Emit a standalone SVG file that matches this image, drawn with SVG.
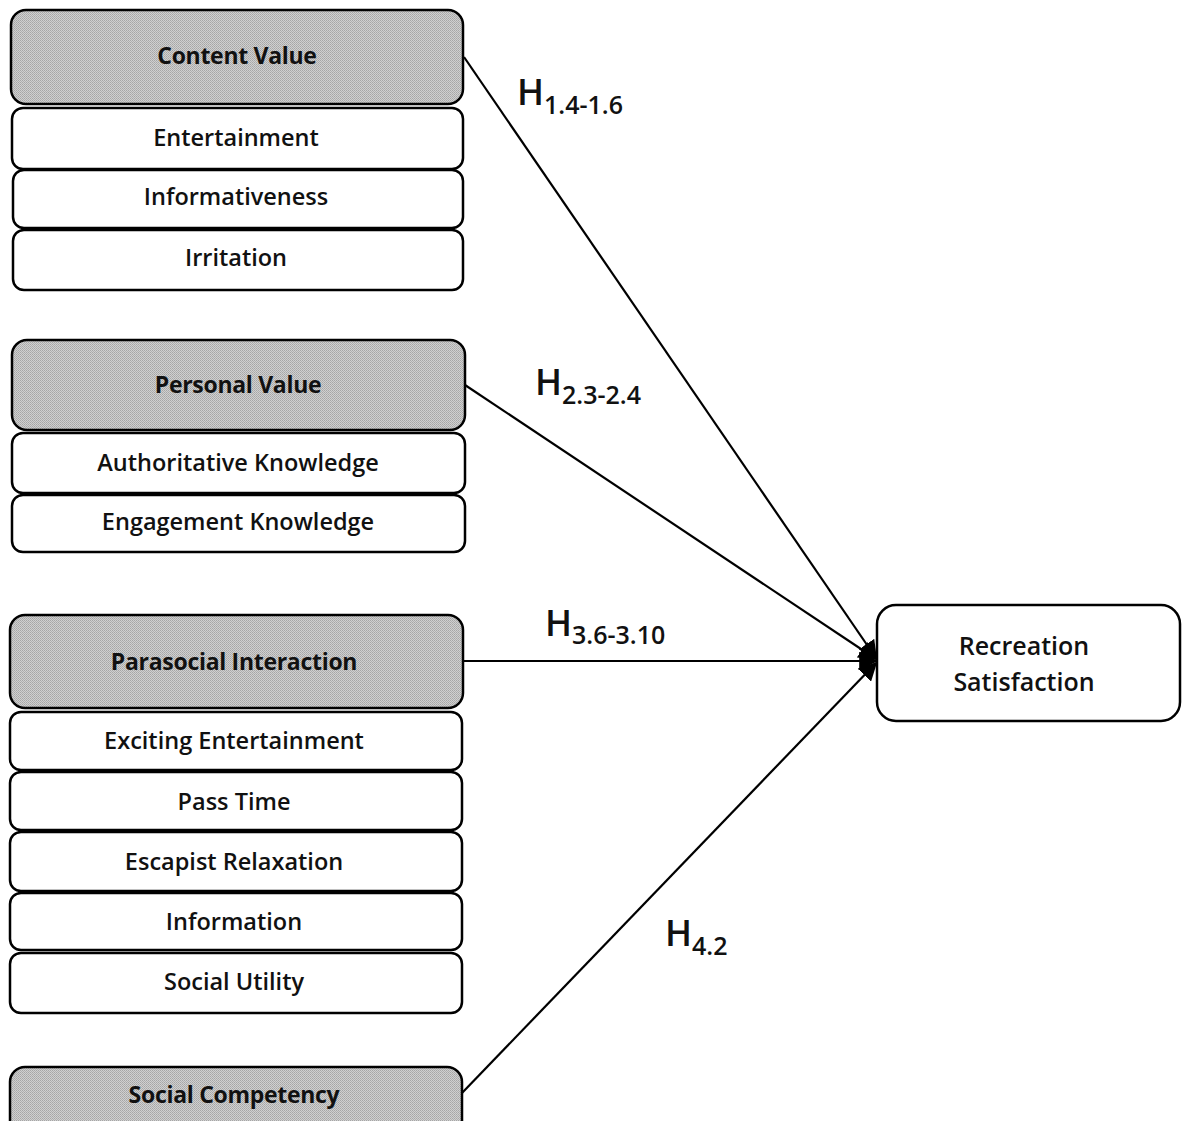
<svg xmlns="http://www.w3.org/2000/svg" width="1186" height="1121" viewBox="0 0 1186 1121">
  <style>
    .hdr { fill: url(#stipple); stroke: #000; stroke-width: 2.5; }
    .item { fill: #fff; stroke: #000; stroke-width: 2.5; }
    .lbl { font-family: "Open Sans", "Liberation Sans", sans-serif; font-size: 23.5px; font-weight: 600; fill: #111; text-anchor: middle; }
    .hlbl { font-family: "Open Sans", "Liberation Sans", sans-serif; font-size: 23px; font-weight: bold; fill: #111; text-anchor: middle; letter-spacing: -0.3px; }
    .hyp { font-family: "Open Sans", "Liberation Sans", sans-serif; font-size: 36px; font-weight: 600; fill: #111; }
    .sub { font-size: 25px; }
    .edge { stroke: #000; stroke-width: 2.2; fill: none; marker-end: url(#arrow); }
  </style>
  <defs>
    <!-- dithered grey used by the construct headers -->
    <pattern id="stipple" width="2" height="2" patternUnits="userSpaceOnUse">
      <rect width="2" height="2" fill="#d0d0d0"/>
      <rect width="1" height="1" fill="#a6a6a6"/>
      <rect x="1" y="1" width="1" height="1" fill="#b0b0b0"/>
    </pattern>
    <marker id="arrow" viewBox="0 0 10 10" refX="9" refY="5" markerWidth="8.5" markerHeight="8.5" orient="auto" markerUnits="strokeWidth">
      <path d="M0,0 L10,5 L0,10 z" fill="#000"/>
    </marker>
  </defs>
  <rect width="1186" height="1121" fill="#fff"/>

  <!-- Content Value block -->
  <g id="content-value">
    <rect class="hdr" x="11" y="10" width="452" height="94" rx="15"/>
    <text class="hlbl" x="237" y="64">Content Value</text>
  </g>
  <g id="entertainment">
    <rect class="item" x="12" y="108" width="451" height="61" rx="11"/>
    <text class="lbl" x="236" y="146">Entertainment</text>
  </g>
  <g id="informativeness">
    <rect class="item" x="13" y="170" width="450" height="58" rx="11"/>
    <text class="lbl" x="236" y="205">Informativeness</text>
  </g>
  <g id="irritation">
    <rect class="item" x="13" y="230" width="450" height="60" rx="11"/>
    <text class="lbl" x="236" y="266">Irritation</text>
  </g>

  <!-- Personal Value block -->
  <g id="personal-value">
    <rect class="hdr" x="12" y="340" width="453" height="90" rx="15"/>
    <text class="hlbl" x="238" y="393">Personal Value</text>
  </g>
  <g id="authoritative-knowledge">
    <rect class="item" x="12" y="433" width="453" height="60" rx="11"/>
    <text class="lbl" x="238" y="471">Authoritative Knowledge</text>
  </g>
  <g id="engagement-knowledge">
    <rect class="item" x="12" y="495" width="453" height="57" rx="11"/>
    <text class="lbl" x="238" y="530">Engagement Knowledge</text>
  </g>

  <!-- Parasocial Interaction block -->
  <g id="parasocial-interaction">
    <rect class="hdr" x="10" y="615" width="453" height="93" rx="15"/>
    <text class="hlbl" x="234" y="670">Parasocial Interaction</text>
  </g>
  <g id="exciting-entertainment">
    <rect class="item" x="10" y="712" width="452" height="58" rx="11"/>
    <text class="lbl" x="234" y="749">Exciting Entertainment</text>
  </g>
  <g id="pass-time">
    <rect class="item" x="10" y="772" width="452" height="58" rx="11"/>
    <text class="lbl" x="234" y="810">Pass Time</text>
  </g>
  <g id="escapist-relaxation">
    <rect class="item" x="10" y="832" width="452" height="59" rx="11"/>
    <text class="lbl" x="234" y="870">Escapist Relaxation</text>
  </g>
  <g id="information">
    <rect class="item" x="10" y="893" width="452" height="57" rx="11"/>
    <text class="lbl" x="234" y="930">Information</text>
  </g>
  <g id="social-utility">
    <rect class="item" x="10" y="953" width="452" height="60" rx="11"/>
    <text class="lbl" x="234" y="990">Social Utility</text>
  </g>

  <!-- Social Competency block (runs off the bottom edge) -->
  <g id="social-competency">
    <rect class="hdr" x="10" y="1067" width="452" height="80" rx="15"/>
    <text class="hlbl" x="234" y="1103">Social Competency</text>
  </g>

  <!-- Outcome -->
  <g id="recreation-satisfaction">
    <rect class="item" x="877" y="605" width="303" height="116" rx="19"/>
    <text class="lbl" x="1024" y="655" style="font-size:25px">Recreation</text>
    <text class="lbl" x="1024" y="691" style="font-size:25px">Satisfaction</text>
  </g>

  <!-- Hypothesis paths -->
  <g id="connectors">
    <line class="edge" x1="464" y1="57" x2="876" y2="658"/>
    <line class="edge" x1="465" y1="385" x2="876" y2="659"/>
    <line class="edge" x1="463" y1="661" x2="876" y2="661"/>
    <line class="edge" x1="462" y1="1093" x2="876" y2="663"/>
  </g>

  <!-- Hypothesis labels -->
  <g id="labels">
    <text class="hyp" x="517" y="105">H<tspan class="sub" dy="9">1.4-1.6</tspan></text>
    <text class="hyp" x="535" y="395">H<tspan class="sub" dy="9">2.3-2.4</tspan></text>
    <text class="hyp" x="545" y="636">H<tspan class="sub" dy="8">3.6-3.10</tspan></text>
    <text class="hyp" x="665" y="946">H<tspan class="sub" dy="9">4.2</tspan></text>
  </g>
</svg>
